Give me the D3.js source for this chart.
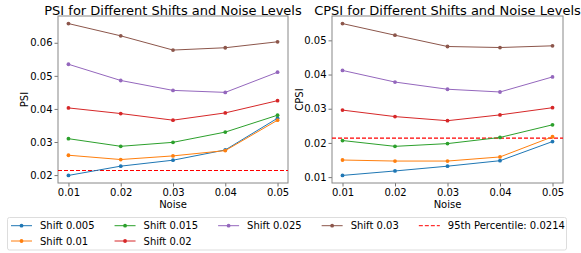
<!DOCTYPE html>
<html><head><meta charset="utf-8">
<script src="https://cdn.jsdelivr.net/npm/d3@7"></script>
<style>body{margin:0;background:#fff}svg{display:block;font-family:"DejaVu Sans",sans-serif}</style>
</head><body><svg id="c" width="581" height="253"></svg>
<script>
const noise = [0.01, 0.02, 0.03, 0.04, 0.05];
const shifts = ["Shift 0.005", "Shift 0.01", "Shift 0.015", "Shift 0.02", "Shift 0.025", "Shift 0.03"];
const colors = ["#1f77b4", "#ff7f0e", "#2ca02c", "#d62728", "#9467bd", "#8c564b"];
const psi005 = [0.0199, 0.0227, 0.0245, 0.0276, 0.0372];
const psi01  = [0.0260, 0.0247, 0.0258, 0.0274, 0.0366];
const psi015 = [0.0310, 0.0287, 0.0299, 0.0330, 0.0381];
const psi02  = [0.0403, 0.0386, 0.0366, 0.0388, 0.0425];
const psi025 = [0.0535, 0.0486, 0.0456, 0.0450, 0.0511];
const psi03  = [0.0658, 0.0621, 0.0578, 0.0585, 0.0603];
const cpsi005 = [0.0105, 0.0118, 0.0132, 0.0148, 0.0204];
const cpsi01  = [0.0150, 0.0147, 0.0147, 0.0159, 0.0218];
const cpsi015 = [0.0207, 0.0190, 0.0198, 0.0216, 0.0253];
const cpsi02  = [0.0296, 0.0277, 0.0265, 0.0282, 0.0303];
const cpsi025 = [0.0412, 0.0378, 0.0357, 0.0349, 0.0393];
const cpsi03  = [0.0549, 0.0515, 0.0482, 0.0479, 0.0484];
const threshold = 0.0214;
const thresholdLabel = "95th Percentile: 0.0214";
const psiTicks = [0.02, 0.03, 0.04, 0.05, 0.06];
const cpsiTicks = [0.01, 0.02, 0.03, 0.04, 0.05];
const xTicks = [0.01, 0.02, 0.03, 0.04, 0.05];

const svg = d3.select("#c");
const fmt = d3.format(".2f");

function panel(x0, x1, y0, y1, series, ticks, title, ylabel, ylabX) {
  const all = series.flat();
  const mn = d3.min(all), mx = d3.max(all), m = (mx - mn) * 0.05;
  const x = d3.scaleLinear().domain([0.008, 0.052]).range([x0, x1]);
  const y = d3.scaleLinear().domain([mn - m, mx + m]).range([y1, y0]);
  const g = svg.append("g");
  const xa = g.append("g").attr("transform", `translate(0,${y1})`)
    .call(d3.axisBottom(x).tickValues(xTicks).tickFormat(fmt).tickSize(3.5).tickPadding(2));
  const ya = g.append("g").attr("transform", `translate(${x0},0)`)
    .call(d3.axisLeft(y).tickValues(ticks).tickFormat(fmt).tickSize(3.5).tickPadding(2));
  [xa, ya].forEach(a => {
    a.select(".domain").remove();
    a.selectAll("line").attr("stroke", "#555").attr("stroke-width", 0.8);
    a.selectAll("text").attr("font-size", 10).attr("fill", "#000").attr("font-family", "DejaVu Sans");
  });
  g.append("rect").attr("x", x0).attr("y", y0).attr("width", x1 - x0).attr("height", y1 - y0)
    .attr("fill", "none").attr("stroke", "#888").attr("stroke-width", 1);
  g.append("line").attr("x1", x0).attr("x2", x1).attr("y1", y(threshold)).attr("y2", y(threshold))
    .attr("stroke", "red").attr("stroke-width", 1.1).attr("stroke-dasharray", "4,2");
  const line = d3.line().x((d, i) => x(noise[i])).y(d => y(d));
  series.forEach((s, k) => {
    g.append("path").attr("d", line(s)).attr("fill", "none").attr("stroke", colors[k]).attr("stroke-width", 1);
    g.selectAll(null).data(s).enter().append("circle")
      .attr("cx", (d, i) => x(noise[i])).attr("cy", d => y(d)).attr("r", 1.9).attr("fill", colors[k]);
  });
  g.append("text").attr("x", (x0 + x1) / 2).attr("y", 14.5).attr("text-anchor", "middle")
    .attr("font-size", 13).text(title);
  g.append("text").attr("x", (x0 + x1) / 2).attr("y", 207.5).attr("text-anchor", "middle")
    .attr("font-size", 10).text("Noise");
  g.append("text").attr("transform", `translate(${ylabX},${(y0 + y1) / 2}) rotate(-90)`)
    .attr("text-anchor", "middle").attr("font-size", 10).text(ylabel);
}

panel(58, 288, 16, 183, [psi005, psi01, psi015, psi02, psi025, psi03], psiTicks,
  "PSI for Different Shifts and Noise Levels", "PSI", 27.5);
panel(332, 563, 16, 183, [cpsi005, cpsi01, cpsi015, cpsi02, cpsi025, cpsi03], cpsiTicks,
  "CPSI for Different Shifts and Noise Levels", "CPSI", 303);

// legend: 5 columns, column-major fill (2,2,1,1,1)
const lg = svg.append("g");
lg.append("rect").attr("x", 7.5).attr("y", 217.5).attr("width", 559).attr("height", 32.5)
  .attr("rx", 2).attr("fill", "#fff").attr("stroke", "#ddd").attr("stroke-width", 1);
const items = shifts.map((s, i) => ({label: s, color: colors[i], dash: false}));
items.push({label: thresholdLabel, color: "red", dash: true});
const cols = [items.slice(0, 2), items.slice(2, 4), [items[4]], [items[5]], [items[6]]];
let cx = 11;
const rowY = [225.7, 241];
cols.forEach(col => {
  let wmax = 0;
  col.forEach((it, r) => {
    const yy = rowY[r];
    lg.append("line").attr("x1", cx).attr("x2", cx + 21).attr("y1", yy).attr("y2", yy)
      .attr("stroke", it.color).attr("stroke-width", 1)
      .attr("stroke-dasharray", it.dash ? "4,2" : null);
    if (!it.dash) lg.append("circle").attr("cx", cx + 10.5).attr("cy", yy).attr("r", 1.9).attr("fill", it.color);
    const t = lg.append("text").attr("x", cx + 29).attr("y", yy + 3.6).attr("font-size", 10).text(it.label);
    wmax = Math.max(wmax, t.node().getComputedTextLength());
  });
  cx += 29 + wmax + 20;
});
</script></body></html>
